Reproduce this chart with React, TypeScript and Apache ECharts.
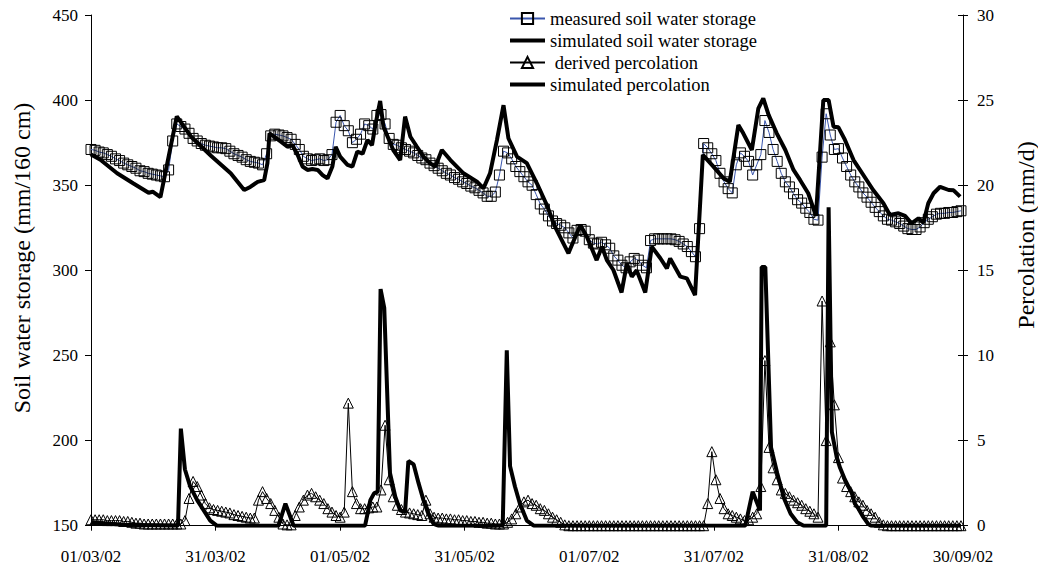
import React, { useEffect, useRef } from 'react';
import * as echarts from 'echarts';

// x axis: days since 01/03/02, ticks every 30.5 days
const xTickLabels = ['01/03/02', '31/03/02', '01/05/02', '31/05/02', '01/07/02', '31/07/02', '31/08/02', '30/09/02'];

// daily measured soil water storage (mm/160 cm), day 0 = 01/03/02
const measuredStorage = [
  371, 370.5, 369.5, 369, 368, 367, 365.5, 364.5, 363, 362,
  361, 360, 358.5, 358, 357, 356.5, 356, 355.5, 355, 359,
  376, 386, 384.5, 383, 380.5, 377.5, 376, 374.5, 373.5, 373,
  372.5, 372, 372, 371.5, 370, 368.5, 367.5, 366.5, 365, 364,
  363.5, 363, 362, 368.5, 379, 380, 379.5, 379, 378, 377,
  374, 371, 367, 365.5, 364.5, 365, 365.5, 364.5, 365, 368,
  387, 391, 385, 382, 375, 377, 380, 386, 385, 383,
  391, 391.5, 386, 377.5, 374, 373.5, 372, 371, 370, 369,
  367.5, 366, 365, 363, 361.5, 360, 358.5, 357, 356, 354.5,
  353.5, 352, 351, 349.5, 348.5, 347, 345.5, 343.5, 343.5, 346,
  356, 370, 369, 365.5, 361, 358, 355, 352, 350, 344.5,
  339, 336, 332, 329, 327.5, 326.5, 325, 322, 319, 323.5,
  324, 323, 318, 316, 315.5, 316.5, 315, 313, 308.5, 306,
  303, 301.5, 305, 307, 306, 303, 301.5, 317.5, 318.5, 318.5,
  318.5, 318.5, 318.5, 318, 317, 315.5, 314, 311, 308, 324.5,
  374.5, 372, 368.5, 364.5, 357, 352, 348, 345.5, 362, 369,
  367, 364, 356, 362, 368, 388, 381, 371, 364, 357,
  352, 349, 345, 341.5, 339.5, 336.5, 334, 330, 329.5, 366.5,
  392, 379.5, 371, 371.5, 366, 361, 356, 352, 349, 345.5,
  343, 340, 337, 334.5, 332, 330, 329.5, 328.5, 327.5, 326,
  324.5, 324, 324, 325.5, 328, 330, 331.5, 333, 333.5, 333.5,
  334, 334, 334.5, 335,
];

// simulated soil water storage, [day, mm]
const simulatedStorage: [number, number][] = [
  [0, 368], [2.3, 365], [6.4, 357], [10.4, 351], [14.1, 345.6], [15.1, 346.2], [17, 343], [21, 390.5],
  [24.5, 378.5], [29.5, 367], [34.2, 357], [37.5, 347.2], [39, 349], [40.8, 352], [42.4, 353], [43.2, 363],
  [43.7, 380.5], [46.5, 375.6], [48.1, 372.6], [49.3, 373.6], [50.6, 367.8], [51.8, 361], [53, 359],
  [54.2, 359.5], [55.5, 359], [56.7, 356], [57.9, 354], [59.1, 361], [59.9, 372.6], [61, 366.8], [62.8, 362],
  [64, 361], [65.2, 369.7], [66.5, 368.5], [67.7, 376.6], [68.8, 373.6], [69.6, 385], [70.8, 399.5],
  [71.6, 384.4], [72.8, 377.6], [74, 370.7], [75.7, 364.8], [76.9, 390.3], [78.2, 378.5], [79.8, 372.6],
  [81.4, 366.8], [83, 362.9], [84.3, 360.9], [85.9, 370.7], [88, 364.8], [91.2, 357], [94.5, 352.1],
  [96.1, 348.2], [97.7, 357], [99.4, 376.6], [101, 397], [102.2, 377.6], [104.3, 366.8], [106.7, 363],
  [109.2, 351], [111.6, 338.4], [113.6, 325.7], [116.9, 310], [119.8, 326.6], [121.4, 319.8], [123.8, 306],
  [125.1, 313.9], [126.3, 306], [127.9, 300.2], [129.9, 287], [131.2, 304], [132.4, 296.3], [133.6, 300],
  [135.7, 287], [137.3, 313.9], [139.4, 307.1], [141, 301.2], [141.8, 307], [144.3, 296.3], [145.9, 295.3],
  [147.9, 285.5], [149.8, 367.8], [152.4, 360.9], [154.9, 354], [156.4, 352], [158.5, 385.4], [159.7, 380.5],
  [161.8, 370.7], [163.4, 395.2], [164.6, 401], [165.9, 391.3], [167.9, 380.5], [170, 370.7], [172, 359],
  [173.6, 353.1], [175.6, 345.3], [177.5, 332], [179.3, 400], [180.6, 400], [181.8, 384.4], [183, 384],
  [184.6, 376.6], [186.7, 364.8], [189.1, 356], [191.5, 347.2], [194, 339.4], [195.6, 332.5], [197.7, 333.5],
  [199.3, 332], [200.9, 327.6], [202.6, 330.6], [203.8, 328], [205, 339.4], [206.3, 345.3], [207.9, 349.1],
  [210, 347.2], [211.2, 347], [212.8, 343.3],
];

// daily derived percolation (mm/d)
const derivedPercolation = [
  0.35, 0.35, 0.35, 0.35, 0.3, 0.3, 0.3, 0.3, 0.25, 0.25,
  0.2, 0.15, 0.15, 0.1, 0.1, 0.1, 0.1, 0.1, 0.1, 0.1,
  0.1, 0.1, 0.1, 0.3, 1.6, 2.6, 2.3, 1.8, 1.3, 1.05,
  0.95, 0.9, 0.85, 0.8, 0.75, 0.65, 0.6, 0.55, 0.5, 0.45,
  0.45, 1.5, 2.0, 1.6, 1.3, 0.9, 0.5, 0.1, 0.05, 0.05,
  0.6, 1.1, 1.5, 1.8, 1.9, 1.7, 1.5, 1.3, 1.0, 0.8,
  0.6, 0.5, 0.8, 7.2, 2.0, 1.3, 1.0, 1.0, 1.05, 1.1,
  1.1, 2.1, 5.9, 2.7, 1.7, 1.2, 0.95, 0.8, 0.75, 0.7,
  0.65, 0.6, 1.5, 0.7, 0.5, 0.45, 0.45, 0.4, 0.4, 0.35,
  0.35, 0.3, 0.3, 0.25, 0.25, 0.2, 0.2, 0.15, 0.15, 0.1,
  0.1, 0.1, 0.2, 0.4, 0.7, 1.1, 1.4, 1.5, 1.3, 1.2,
  1.0, 0.9, 0.7, 0.5, 0.35, 0.2, 0.05, 0, 0, 0,
  0, 0, 0, 0, 0, 0, 0, 0, 0, 0,
  0, 0, 0, 0, 0, 0, 0, 0, 0, 0,
  0, 0, 0, 0, 0, 0, 0, 0, 0, 0,
  0, 1.3, 4.35, 2.7, 1.6, 1.0, 0.7, 0.6, 0.5, 0.4,
  0.3, 0.35, 0.5, 0.7, 2.3, 9.7, 4.6, 3.4, 2.7, 2.1,
  1.9, 1.7, 1.5, 1.35, 1.2, 1.0, 0.85, 0.7, 0.5, 13.2,
  5.0, 10.8, 7.1, 4.0, 2.8, 2.3, 2.0, 1.7, 1.4, 1.2,
  0.9, 0.7, 0.5, 0.2, 0.05, 0, 0, 0, 0, 0,
  0, 0, 0, 0, 0, 0, 0, 0, 0, 0,
  0, 0, 0, 0,
];

// simulated percolation, [day, mm/d]
const simulatedPercolation: [number, number][] = [
  [0, 0.2], [8, 0.05], [21.3, 0], [22, 5.7], [23, 3.3], [24.3, 2.3], [26, 1.5], [27.6, 0.9], [29.2, 0.3],
  [30.8, 0], [45.9, 0], [47.6, 1.3], [49.6, 0], [67.1, 0], [68.4, 1.5], [69.3, 1.9], [70.2, 2.0],
  [70.9, 13.9], [71.8, 12.8], [73.2, 3.1], [74.5, 1.7], [75.7, 0.9], [76.9, 0.8], [77.7, 3.8], [79, 3.6],
  [80.2, 2.5], [81.4, 1.5], [82.6, 0.7], [83.9, 0.1], [85, 0], [100.8, 0], [101.8, 10.3], [102.6, 3.5],
  [103.8, 2.3], [105, 1.3], [106.7, 0.3], [108.4, 0], [160.2, 0], [162, 2.0], [163.8, 0.9], [164.2, 15.2],
  [165.1, 15.2], [166.5, 4.6], [168, 3.1], [169.7, 1.6], [171.3, 0.7], [172.9, 0.2], [174.5, 0], [180, 0],
  [180.6, 18.7], [181.4, 5.5], [182.6, 4.0], [183.4, 3.4], [184.6, 2.7], [186.3, 1.9], [187, 1.3],
  [187.9, 1.0], [189.1, 0.5], [190.3, 0.1], [191, 0], [213, 0],
];

const seriesNames = [
  'measured soil water storage',
  'simulated soil water storage',
  ' derived percolation',
  'simulated percolation',
];
const leftTitle = 'Soil water storage (mm/160 cm)';
const rightTitle = 'Percolation (mm/d)';

const FONT = '"Liberation Serif", "Times New Roman", serif';

export default function App() {
  const ref = useRef<HTMLDivElement>(null);
  useEffect(() => {
    if (!ref.current) return;
    const chart = echarts.init(ref.current, null, { renderer: 'svg' });
    const measuredData = measuredStorage.map((v, i) => [i, v]);
    const derivedData = derivedPercolation.map((v, i) => [i, v]);
    const axisLineStyle = { color: '#000', width: 1 };
    const labelStyle = { fontFamily: FONT, fontSize: 17, color: '#000' };
    chart.setOption({
      animation: false,
      backgroundColor: '#ffffff',
      grid: { left: 91, right: 75, top: 15, bottom: 40.3, containLabel: false },
      xAxis: {
        type: 'value',
        min: 0,
        max: 213.5,
        interval: 30.5,
        axisLine: { show: true, onZero: false, lineStyle: axisLineStyle },
        axisTick: { show: true, length: 5, lineStyle: axisLineStyle },
        splitLine: { show: false },
        axisLabel: {
          ...labelStyle,
          margin: 22,
          formatter: (v: number) => xTickLabels[Math.round(v / 30.5)] ?? '',
        },
      },
      yAxis: [
        {
          type: 'value',
          min: 150,
          max: 450,
          interval: 50,
          position: 'left',
          axisLine: { show: true, lineStyle: axisLineStyle },
          axisTick: { show: true, length: 6, lineStyle: axisLineStyle },
          splitLine: { show: false },
          axisLabel: { ...labelStyle, margin: 13 },
        },
        {
          type: 'value',
          min: 0,
          max: 30,
          interval: 5,
          position: 'right',
          axisLine: { show: true, lineStyle: axisLineStyle },
          axisTick: { show: true, length: 5, lineStyle: axisLineStyle },
          splitLine: { show: false },
          axisLabel: { ...labelStyle, margin: 14 },
        },
        {
          type: 'value',
          min: 0,
          max: 30,
          interval: 5,
          position: 'right',
          axisLine: { show: false },
          axisTick: { show: true, inside: true, length: 5, lineStyle: axisLineStyle },
          splitLine: { show: false },
          axisLabel: { show: false },
        },
      ],
      legend: {
        orient: 'vertical',
        left: 508,
        top: 9,
        padding: 0,
        itemGap: 3,
        itemWidth: 35,
        itemHeight: 14,
        selectedMode: false,
        textStyle: { fontFamily: FONT, fontSize: 18.5, color: '#000' },
        data: [
          { name: seriesNames[0] },
          { name: seriesNames[1], lineStyle: { width: 4, color: '#000' } },
          { name: seriesNames[2] },
          { name: seriesNames[3], lineStyle: { width: 4, color: '#000' } },
        ],
      },
      graphic: [
        {
          type: 'text',
          x: 21.5,
          y: 258,
          rotation: Math.PI / 2,
          style: {
            text: leftTitle,
            font: `24px ${FONT}`,
            fill: '#000',
            align: 'center',
            verticalAlign: 'middle',
            textAlign: 'center',
            textVerticalAlign: 'middle',
          },
        },
        {
          type: 'text',
          x: 1026,
          y: 235,
          rotation: Math.PI / 2,
          style: {
            text: rightTitle,
            font: `24px ${FONT}`,
            fill: '#000',
            align: 'center',
            verticalAlign: 'middle',
            textAlign: 'center',
            textVerticalAlign: 'middle',
          },
        },
      ],
      series: [
        {
          name: seriesNames[0],
          type: 'line',
          yAxisIndex: 0,
          data: measuredData,
          symbol: 'rect',
          symbolSize: 10,
          itemStyle: { color: 'rgba(0,0,0,0)', borderColor: '#000', borderWidth: 1 },
          lineStyle: { color: '#3a56ad', width: 1 },
          silent: true,
          emphasis: { disabled: true },
        },
        {
          name: seriesNames[1],
          type: 'line',
          yAxisIndex: 0,
          data: simulatedStorage,
          symbol: 'none',
          itemStyle: { color: 'rgba(0,0,0,0)' },
          lineStyle: { color: '#000', width: 4 },
          silent: true,
          emphasis: { disabled: true },
        },
        {
          name: seriesNames[2],
          type: 'line',
          yAxisIndex: 1,
          data: derivedData,
          symbol: 'triangle',
          symbolSize: [10, 10],
          itemStyle: { color: 'rgba(0,0,0,0)', borderColor: '#000', borderWidth: 1 },
          lineStyle: { color: '#000', width: 1 },
          silent: true,
          emphasis: { disabled: true },
        },
        {
          name: seriesNames[3],
          type: 'line',
          yAxisIndex: 1,
          data: simulatedPercolation,
          symbol: 'none',
          itemStyle: { color: 'rgba(0,0,0,0)' },
          lineStyle: { color: '#000', width: 4 },
          silent: true,
          emphasis: { disabled: true },
        },
      ],
    });
    return () => chart.dispose();
  }, []);
  return (
    <div
      ref={ref}
      style={{ position: 'absolute', left: 0, top: 0, width: 1038, height: 566, background: '#fff' }}
    />
  );
}
